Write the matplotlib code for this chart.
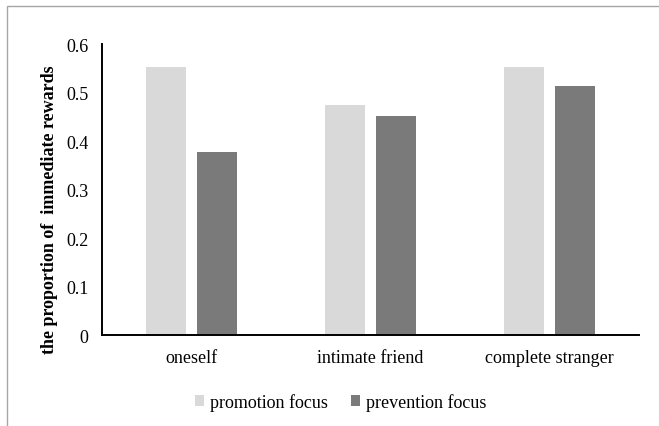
import numpy as np
import matplotlib.pyplot as plt
from matplotlib.patches import Rectangle

# Dati: proporzione di ricompense immediate per target e focus regolatorio
targets = ["oneself", "intimate friend", "complete stranger"]
promotion = [0.553, 0.474, 0.553]
prevention = [0.377, 0.451, 0.513]

plt.rcParams['font.family'] = ['Liberation Serif', 'DejaVu Serif']

fig = plt.figure(figsize=(6.59, 4.27), dpi=100)
ax = fig.add_axes([0.1553, 0.2131, 0.8144, 0.6815])

x = np.arange(len(targets))
w = 0.2235
off = 0.1416
ax.bar(x - off, promotion, w, color='#d9d9d9', label='promotion focus')
ax.bar(x + off, prevention, w, color='#7a7a7a', label='prevention focus')

ax.set_xlim(-0.5, 2.5)
ax.set_ylim(0, 0.6)
ax.set_yticks(np.arange(0, 0.61, 0.1))
ax.set_yticklabels(['0', '0.1', '0.2', '0.3', '0.4', '0.5', '0.6'])
ax.set_xticks(x)
ax.set_xticklabels(targets)
ax.tick_params(axis='both', length=0, labelsize=13, colors='black')
ax.tick_params(axis='x', pad=10)
ax.tick_params(axis='y', pad=10)

for s in ['top', 'right']:
    ax.spines[s].set_visible(False)
for s in ['left', 'bottom']:
    ax.spines[s].set_linewidth(1.4)
    ax.spines[s].set_color('black')

ax.set_ylabel("the proportion of  immediate rewards", fontsize=13,
              fontweight='bold')
ax.yaxis.set_label_coords(-0.083, 0.433)

fig.legend(loc='center', bbox_to_anchor=(0.517, 0.0562), ncol=2, frameon=False,
           fontsize=13, handlelength=0.5, handleheight=0.5,
           handletextpad=0.3, columnspacing=1.3)

# Cornice del grafico
fig.patches.append(Rectangle((7 / 659, -0.1), 1.2, 1 - 7 / 427 + 0.1,
                             transform=fig.transFigure, fill=False,
                             edgecolor='#a6a6a6', linewidth=1.0))

fig.savefig('out.png', dpi=100)
